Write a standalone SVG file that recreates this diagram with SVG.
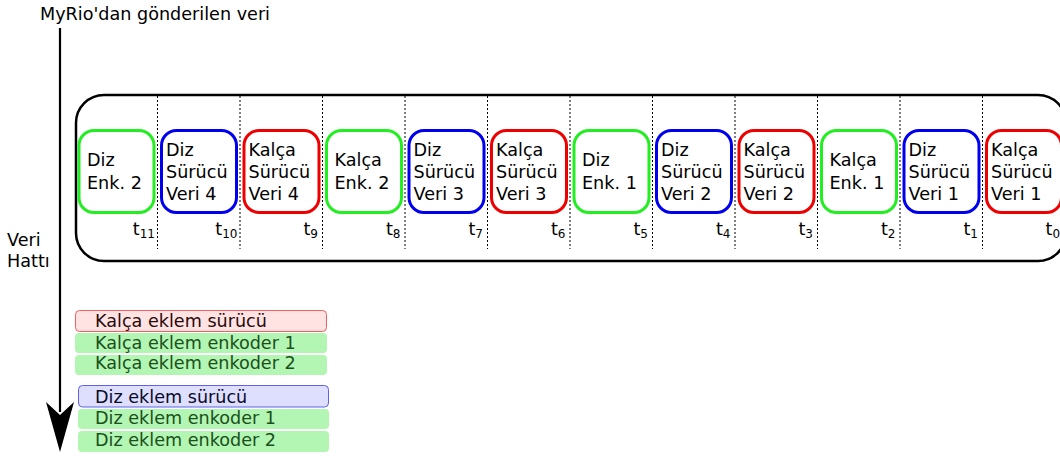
<svg xmlns="http://www.w3.org/2000/svg" width="1060" height="459" viewBox="0 0 1060 459">
<style>
text{font-family:"DejaVu Sans","Liberation Sans",sans-serif;font-size:17.6px;fill:#000}
.box{fill:#fff;stroke-width:3}
.g{stroke:#22ee22}.b{stroke:#0000ee}.r{stroke:#ee0000}
.dot{stroke:#000;stroke-width:1;stroke-dasharray:2,2;fill:none}
.t{text-anchor:end}
.sub{font-size:12px}
.gt{fill:#1a501a}
</style>
<rect width="1060" height="459" fill="#fff"/>
<text x="40" y="20">MyRio'dan gönderilen veri</text>
<text x="7" y="246">Veri</text>
<text x="7" y="267">Hattı</text>
<g id="connectors">
<line x1="60" y1="28" x2="60" y2="412" stroke="#000" stroke-width="2.2"/>
<path d="M60,452 L46,402 L60,415 L74,402 Z" fill="#000"/>
</g>
<g id="pipeline">
<rect x="76" y="95" width="990" height="166" rx="28" fill="none" stroke="#000" stroke-width="2.5"/>
<g id="dividers">
<line class="dot" x1="157.5" y1="96" x2="157.5" y2="249"/>
<line class="dot" x1="240" y1="96" x2="240" y2="249"/>
<line class="dot" x1="322.5" y1="96" x2="322.5" y2="249"/>
<line class="dot" x1="405" y1="96" x2="405" y2="249"/>
<line class="dot" x1="487.5" y1="96" x2="487.5" y2="249"/>
<line class="dot" x1="570" y1="96" x2="570" y2="249"/>
<line class="dot" x1="652.5" y1="96" x2="652.5" y2="249"/>
<line class="dot" x1="735" y1="96" x2="735" y2="249"/>
<line class="dot" x1="817.5" y1="96" x2="817.5" y2="249"/>
<line class="dot" x1="900" y1="96" x2="900" y2="249"/>
<line class="dot" x1="982.5" y1="96" x2="982.5" y2="249"/>
</g>
</g>
<g id="n0"><rect class="box g" x="79" y="130.5" width="75" height="82" rx="15"/><text x="87" y="166">Diz</text><text x="87" y="189">Enk. 2</text><text class="t" x="155" y="235">t<tspan class="sub" dy="2.5">11</tspan></text></g>
<g id="n1"><rect class="box b" x="161.5" y="130.5" width="75" height="82" rx="15"/><text x="166" y="155.5">Diz</text><text x="166" y="177.5">Sürücü</text><text x="166" y="199.5">Veri 4</text><text class="t" x="237.5" y="235">t<tspan class="sub" dy="2.5">10</tspan></text></g>
<g id="n2"><rect class="box r" x="244" y="130.5" width="75" height="82" rx="15"/><text x="248.5" y="155.5">Kalça</text><text x="248.5" y="177.5">Sürücü</text><text x="248.5" y="199.5">Veri 4</text><text class="t" x="318" y="235">t<tspan class="sub" dy="2.5">9</tspan></text></g>
<g id="n3"><rect class="box g" x="326.5" y="130.5" width="75" height="82" rx="15"/><text x="334.5" y="166">Kalça</text><text x="334.5" y="189">Enk. 2</text><text class="t" x="400.5" y="235">t<tspan class="sub" dy="2.5">8</tspan></text></g>
<g id="n4"><rect class="box b" x="409" y="130.5" width="75" height="82" rx="15"/><text x="413.5" y="155.5">Diz</text><text x="413.5" y="177.5">Sürücü</text><text x="413.5" y="199.5">Veri 3</text><text class="t" x="483" y="235">t<tspan class="sub" dy="2.5">7</tspan></text></g>
<g id="n5"><rect class="box r" x="491.5" y="130.5" width="75" height="82" rx="15"/><text x="496" y="155.5">Kalça</text><text x="496" y="177.5">Sürücü</text><text x="496" y="199.5">Veri 3</text><text class="t" x="565.5" y="235">t<tspan class="sub" dy="2.5">6</tspan></text></g>
<g id="n6"><rect class="box g" x="574" y="130.5" width="75" height="82" rx="15"/><text x="582" y="166">Diz</text><text x="582" y="189">Enk. 1</text><text class="t" x="648" y="235">t<tspan class="sub" dy="2.5">5</tspan></text></g>
<g id="n7"><rect class="box b" x="656.5" y="130.5" width="75" height="82" rx="15"/><text x="661" y="155.5">Diz</text><text x="661" y="177.5">Sürücü</text><text x="661" y="199.5">Veri 2</text><text class="t" x="730.5" y="235">t<tspan class="sub" dy="2.5">4</tspan></text></g>
<g id="n8"><rect class="box r" x="739" y="130.5" width="75" height="82" rx="15"/><text x="743.5" y="155.5">Kalça</text><text x="743.5" y="177.5">Sürücü</text><text x="743.5" y="199.5">Veri 2</text><text class="t" x="813" y="235">t<tspan class="sub" dy="2.5">3</tspan></text></g>
<g id="n9"><rect class="box g" x="821.5" y="130.5" width="75" height="82" rx="15"/><text x="829.5" y="166">Kalça</text><text x="829.5" y="189">Enk. 1</text><text class="t" x="895.5" y="235">t<tspan class="sub" dy="2.5">2</tspan></text></g>
<g id="n10"><rect class="box b" x="904" y="130.5" width="75" height="82" rx="15"/><text x="908.5" y="155.5">Diz</text><text x="908.5" y="177.5">Sürücü</text><text x="908.5" y="199.5">Veri 1</text><text class="t" x="978" y="235">t<tspan class="sub" dy="2.5">1</tspan></text></g>
<g id="n11"><rect class="box r" x="986.5" y="130.5" width="75" height="82" rx="15"/><text x="991" y="155.5">Kalça</text><text x="991" y="177.5">Sürücü</text><text x="991" y="199.5">Veri 1</text><text x="1045.5" y="235">t<tspan class="sub" dy="2.5">0</tspan></text></g>
<g id="legend">
<g id="l1"><rect x="75.5" y="310.5" width="251" height="21" rx="4" fill="#ffe3e3" stroke="#f06060"/><text x="95" y="327" style="fill:#2a0a0a">Kalça eklem sürücü</text></g>
<g id="l2"><rect x="75" y="333" width="252" height="20" rx="4" fill="#b3f5b3"/><text class="gt" x="95" y="348.5">Kalça eklem enkoder 1</text></g>
<g id="l3"><rect x="75" y="355" width="252" height="20" rx="4" fill="#b3f5b3"/><text class="gt" x="95" y="369">Kalça eklem enkoder 2</text></g>
<g id="l4"><rect x="78.5" y="385.5" width="250" height="21.5" rx="4" fill="#dedefe" stroke="#6060f0"/><text x="95" y="402.5" style="fill:#0a0a2a">Diz eklem sürücü</text></g>
<g id="l5"><rect x="78" y="409" width="251" height="20" rx="4" fill="#b3f5b3"/><text class="gt" x="95" y="424">Diz eklem enkoder 1</text></g>
<g id="l6"><rect x="78" y="431" width="251" height="21" rx="4" fill="#b3f5b3"/><text class="gt" x="95" y="446">Diz eklem enkoder 2</text></g>
</g>
</svg>
